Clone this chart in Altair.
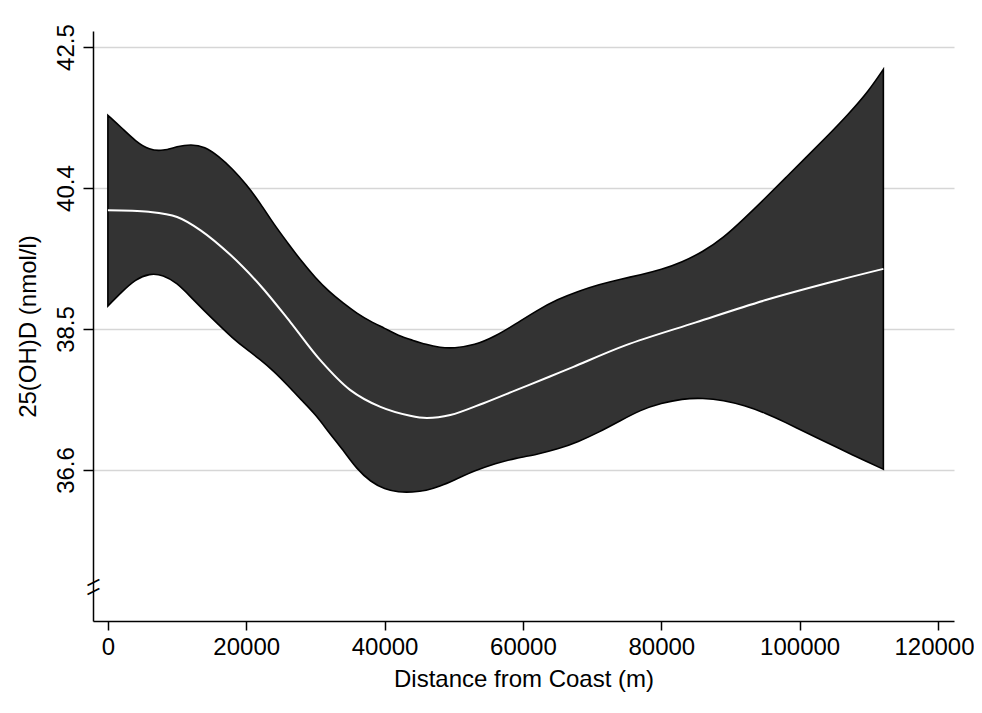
import altair as alt
import pandas as pd

# ---- data ----
band_x = [0, 2000, 4000, 6000, 8000, 10000, 12000, 14000, 16000, 18000, 20000,
          22000, 24000, 26000, 28000, 30000, 32000, 34000, 36000, 38000, 40000,
          42000, 44000, 46000, 48000, 50000, 53000, 56000, 59000, 62000, 65000,
          68000, 71000, 74000, 77000, 80000, 83000, 86000, 89000, 92000, 95000,
          98000, 101000, 104000, 107000, 110000, 112100]
band_upper = [41.38, 41.21, 41.03, 40.91, 40.90, 40.96, 40.99, 40.96, 40.83, 40.66, 40.45,
              40.20, 39.91, 39.66, 39.41, 39.19, 39.00, 38.85, 38.71, 38.60, 38.51,
              38.41, 38.35, 38.29, 38.25, 38.24, 38.28, 38.40, 38.57, 38.75, 38.90,
              39.01, 39.10, 39.17, 39.23, 39.30, 39.40, 39.54, 39.73, 39.99, 40.26,
              40.54, 40.82, 41.10, 41.39, 41.71, 42.00]
band_lower = [38.81, 39.00, 39.17, 39.25, 39.23, 39.12, 38.93, 38.74, 38.56, 38.38, 38.23,
              38.09, 37.93, 37.74, 37.54, 37.35, 37.10, 36.87, 36.61, 36.44, 36.34,
              36.30, 36.30, 36.32, 36.38, 36.46, 36.59, 36.69, 36.76, 36.81, 36.88,
              36.98, 37.11, 37.26, 37.41, 37.50, 37.56, 37.57, 37.54, 37.47, 37.37,
              37.24, 37.10, 36.97, 36.83, 36.70, 36.61]

fit_x = [0, 5900, 10000, 13400, 17700, 22000, 26400, 30700, 35000, 39400, 43700,
         46100, 49500, 54300, 59100, 63900, 67300, 74800, 85000, 95100, 105300, 112100]
fit_y = [40.10, 40.08, 40.01, 39.83, 39.50, 39.09, 38.59, 38.08, 37.68, 37.45, 37.33,
         37.30, 37.34, 37.50, 37.68, 37.86, 37.99, 38.28, 38.59, 38.89, 39.15, 39.31]

y_tick_values = [36.6, 38.5, 40.4, 42.3]
y_tick_labels = ["36.6", "38.5", "40.4", "42.5"]
x_tick_values = [0, 20000, 40000, 60000, 80000, 100000, 120000]
break_marks_y = [35.095, 34.973]

x_domain = [-2153, 122311]
y_domain = [34.565, 42.516]

FONT = "Liberation Sans"

band_df = pd.DataFrame({"x": band_x, "upper": band_upper, "lower": band_lower})
fit_df = pd.DataFrame({"x": fit_x, "y": fit_y})
brk_df = pd.DataFrame({"y": break_marks_y, "t": ["\u2013", "\u2013"]})

label_expr = " : ".join(
    [f"datum.value > {v - 0.05} && datum.value < {v + 0.05} ? '{l}'" for v, l in zip(y_tick_values, y_tick_labels)]
) + " : ''"

x_scale = alt.Scale(domain=x_domain, nice=False, zero=False)
y_scale = alt.Scale(domain=y_domain, nice=False, zero=False)

x_axis = alt.Axis(
    title="Distance from Coast (m)", values=x_tick_values, format="d",
    grid=False, domainColor="black", domainWidth=1.5, tickColor="black", tickWidth=1.5,
    tickSize=9, labelPadding=5, labelFontSize=24, labelFont=FONT, labelColor="black",
    titleFontSize=24, titleFont=FONT, titleColor="black", titleFontWeight="normal",
    titlePadding=8, labelFlush=False,
    labelOffset={"condition": {"test": f"datum.value == {x_tick_values[-1]}", "value": -4}, "value": 0},
)
y_axis = alt.Axis(
    title="25(OH)D (nmol/l)", values=y_tick_values, labelExpr=label_expr,
    grid=True, gridColor="#d6d6d6", gridWidth=1.6,
    domainColor="black", domainWidth=1.5, tickColor="black", tickWidth=1.5,
    tickSize=10, labelAngle=270, labelAlign="center", labelBaseline="alphabetic",
    labelPadding=10, labelFontSize=24, labelFont=FONT, labelColor="black",
    titleFontSize=24, titleFont=FONT, titleColor="black", titleFontWeight="normal",
    titlePadding=14, labelFlush=False,
)

band = alt.Chart(band_df).mark_area(
    interpolate="basis", color="#333333", fillOpacity=1,
    stroke="black", strokeWidth=1.6,
).encode(
    x=alt.X("x:Q", scale=x_scale, axis=x_axis),
    y=alt.Y("upper:Q", scale=y_scale, axis=y_axis),
    y2="lower:Q",
)

fit = alt.Chart(fit_df).mark_line(
    interpolate="catmull-rom", color="white", strokeWidth=2,
).encode(
    x=alt.X("x:Q", scale=x_scale, axis=x_axis),
    y=alt.Y("y:Q", scale=y_scale, axis=y_axis),
)

brk = alt.Chart(brk_df).mark_text(
    fontSize=24, font=FONT, color="black", angle=333,
).encode(
    x=alt.value(0),
    y=alt.Y("y:Q", scale=y_scale, axis=y_axis),
    text="t:N",
)

chart = alt.layer(band, fit, brk).properties(
    width=861, height=590,
    autosize=alt.AutoSizeParams(type="none"),
    padding={"left": 85, "top": 23, "right": 20, "bottom": 80},
    background="white",
).configure_view(stroke=None)

chart.save("out.html", embed_options={"renderer": "svg", "actions": False})
